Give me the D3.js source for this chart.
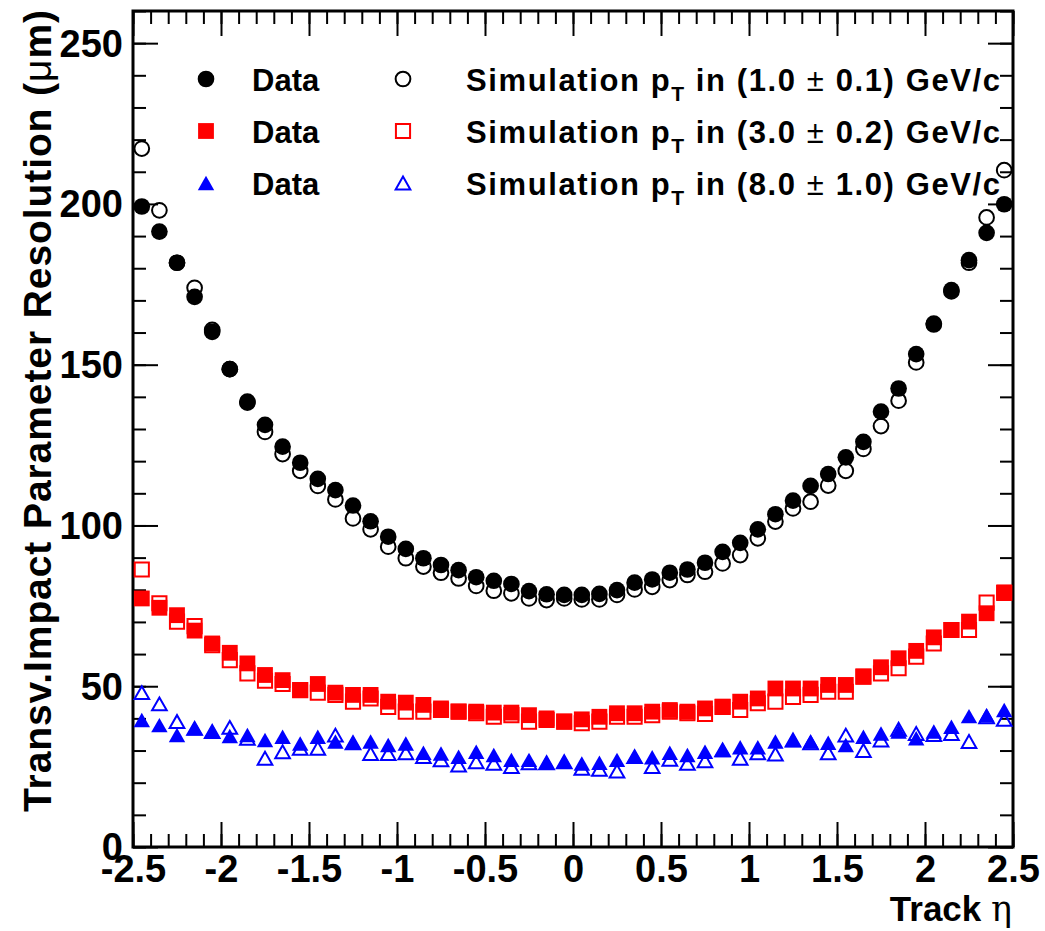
<!DOCTYPE html>
<html>
<head>
<meta charset="utf-8">
<script src="https://cdn.jsdelivr.net/npm/d3@7"></script>
<style>
body { margin: 0; background: #fff; }
text { font-family: "Liberation Sans", Arial, sans-serif; font-weight: bold; }
</style>
</head>
<body>
<div id="chart-container"></div>
<script>
// Track eta bin centres
var etaBins = [-2.45, -2.35, -2.25, -2.15, -2.05, -1.95, -1.85, -1.75, -1.65, -1.55,
    -1.45, -1.35, -1.25, -1.15, -1.05, -0.95, -0.85, -0.75, -0.65, -0.55,
    -0.45, -0.35, -0.25, -0.15, -0.05, 0.05, 0.15, 0.25, 0.35, 0.45,
    0.55, 0.65, 0.75, 0.85, 0.95, 1.05, 1.15, 1.25, 1.35, 1.45,
    1.55, 1.65, 1.75, 1.85, 1.95, 2.05, 2.15, 2.25, 2.35, 2.45];

// pT 1.0 GeV/c
var dataPt1 = [199.2, 191.4, 181.7, 171.1, 160.2, 148.6, 138.5, 131.3, 124.5, 119.5,
    114.5, 111.0, 106.2, 101.3, 96.5, 92.7, 89.8, 87.7, 86.1, 83.9,
    82.8, 81.8, 79.6, 78.6, 78.4, 78.4, 78.7, 79.9, 82.2, 83.2,
    85.3, 86.3, 88.4, 91.8, 94.6, 98.8, 103.5, 107.7, 112.3, 116.0,
    121.2, 126.0, 135.4, 142.6, 153.3, 162.8, 173.2, 182.5, 191.0, 199.9];
var simPt1 = [217.2, 198.0, 181.7, 173.9, 160.8, 148.6, 138.2, 129.1, 122.2, 117.0,
    112.3, 108.1, 102.2, 98.8, 93.4, 89.8, 87.2, 85.3, 83.5, 81.2,
    79.7, 78.9, 77.3, 76.8, 77.3, 77.0, 77.0, 78.4, 80.1, 80.9,
    83.0, 84.6, 85.6, 88.2, 90.8, 96.0, 101.2, 105.3, 107.4, 112.4,
    117.0, 123.8, 130.9, 138.8, 150.7, 162.5, 172.8, 181.7, 195.8, 210.5];

// pT 3.0 GeV/c
var dataPt3 = [77.3, 74.4, 72.1, 67.3, 63.3, 60.4, 57.1, 53.5, 51.9, 48.8,
    50.7, 48.0, 47.3, 47.3, 45.2, 44.9, 44.2, 43.1, 42.1, 42.1,
    41.8, 41.8, 41.0, 40.0, 39.0, 39.7, 40.5, 41.6, 41.6, 42.1,
    42.6, 42.1, 43.1, 43.6, 45.2, 46.2, 49.3, 49.3, 49.3, 50.4,
    50.4, 53.0, 55.9, 58.7, 61.0, 65.2, 67.5, 70.1, 72.7, 79.2];
var simPt3 = [86.3, 75.8, 70.1, 68.7, 62.8, 58.1, 54.0, 51.7, 50.7, 48.8,
    48.0, 47.3, 45.2, 46.2, 43.6, 42.1, 42.1, 42.6, 42.1, 41.6,
    40.5, 41.0, 39.0, 39.5, 39.0, 38.5, 39.0, 40.5, 40.5, 41.0,
    42.1, 41.6, 41.4, 43.6, 42.6, 44.7, 45.2, 46.7, 47.3, 48.3,
    48.3, 53.0, 54.0, 55.6, 59.2, 63.3, 67.5, 67.5, 76.0, 79.0];

// pT 8.0 GeV/c
var dataPt8 = [39.5, 37.9, 34.8, 36.9, 35.9, 34.5, 34.8, 33.3, 34.3, 32.2,
    34.3, 32.8, 32.4, 32.8, 31.7, 32.2, 29.3, 29.1, 28.1, 29.6,
    28.6, 27.1, 27.1, 26.2, 26.5, 26.0, 26.2, 27.1, 28.1, 27.9,
    29.3, 28.6, 29.6, 30.2, 31.0, 31.0, 32.8, 33.3, 32.8, 32.4,
    31.7, 34.3, 35.3, 35.9, 33.8, 35.9, 37.4, 40.7, 41.0, 42.6];
var simPt8 = [48.0, 44.5, 39.0, 36.9, 35.9, 37.2, 33.8, 27.6, 29.6, 30.7,
    30.7, 34.8, 32.4, 29.1, 29.1, 29.3, 28.1, 27.1, 25.5, 26.5,
    26.0, 25.0, 26.2, 26.2, 26.5, 24.5, 24.2, 23.6, 28.1, 25.0,
    27.3, 26.0, 26.8, 30.2, 27.6, 29.3, 28.9, 33.3, 32.4, 29.3,
    34.8, 30.0, 33.3, 36.6, 35.3, 35.0, 35.3, 32.8, 40.5, 39.7];

var xMajorTicks = [-2.5, -2, -1.5, -1, -0.5, 0, 0.5, 1, 1.5, 2, 2.5];
var yMajorTicks = [0, 50, 100, 150, 200, 250];
var simLabels = ["(1.0 ", "(3.0 ", "(8.0 "];
var simLabelsEnd = [" 0.1) GeV/c", " 0.2) GeV/c", " 1.0) GeV/c"];

var width = 1045, height = 931;
var margin = { top: 11, right: 32, bottom: 84, left: 133 };

var svg = d3.select("#chart-container")
    .append("svg")
    .attr("width", width)
    .attr("height", height);

var x = d3.scaleLinear()
    .domain([-2.5, 2.5])
    .range([margin.left, width - margin.right]);

var y = d3.scaleLinear()
    .domain([0, 260])
    .range([height - margin.bottom, margin.top]);

// minor tick positions every 0.1 / 10
var xMinor = d3.range(-25, 26).map(function (d) { return d / 10; });
var yMinor = d3.range(0, 27).map(function (d) { return d * 10; });

function minorAxis(axis, vals) {
    return axis.tickValues(vals).tickSizeInner(-13).tickSizeOuter(0).tickFormat("");
}

var y0 = height - margin.bottom, x0 = margin.left, x1 = width - margin.right, y1 = margin.top;

// bottom axis
svg.append("g").attr("transform", "translate(0," + y0 + ")")
    .call(minorAxis(d3.axisBottom(x), xMinor));
svg.append("g").attr("class", "xaxis").attr("transform", "translate(0," + y0 + ")")
    .call(d3.axisBottom(x).tickValues(xMajorTicks).tickSizeInner(-25).tickSizeOuter(0)
        .tickPadding(8).tickFormat(function (d) { return String(d); }));
// top axis
svg.append("g").attr("transform", "translate(0," + y1 + ")")
    .call(minorAxis(d3.axisTop(x), xMinor));
svg.append("g").attr("transform", "translate(0," + y1 + ")")
    .call(d3.axisTop(x).tickValues(xMajorTicks).tickSizeInner(-25).tickSizeOuter(0).tickFormat(""));
// left axis
svg.append("g").attr("transform", "translate(" + x0 + ",0)")
    .call(minorAxis(d3.axisLeft(y), yMinor));
svg.append("g").attr("class", "yaxis").attr("transform", "translate(" + x0 + ",0)")
    .call(d3.axisLeft(y).tickValues(yMajorTicks).tickSizeInner(-25).tickSizeOuter(0).tickPadding(10));
// right axis
svg.append("g").attr("transform", "translate(" + x1 + ",0)")
    .call(minorAxis(d3.axisRight(y), yMinor));
svg.append("g").attr("transform", "translate(" + x1 + ",0)")
    .call(d3.axisRight(y).tickValues(yMajorTicks).tickSizeInner(-25).tickSizeOuter(0).tickFormat(""));

svg.selectAll(".domain").remove();
svg.selectAll(".tick line").attr("stroke", "#000").attr("stroke-width", 2);
svg.selectAll(".xaxis text, .yaxis text")
    .style("font-family", "Liberation Sans, Arial, sans-serif")
    .style("font-weight", "bold")
    .style("font-size", "38px")
    .attr("fill", "#000");
svg.selectAll(".yaxis text").attr("dy", "0.34em");
svg.selectAll(".xaxis text").attr("dy", "0.72em");

// frame
svg.append("rect")
    .attr("x", x0).attr("y", y1)
    .attr("width", x1 - x0).attr("height", y0 - y1)
    .attr("fill", "none").attr("stroke", "#000").attr("stroke-width", 3);

// marker shapes
var triangleType = {
    draw: function (context, size) {
        var w = Math.sqrt(size);
        context.moveTo(-w / 2, w * 0.44);
        context.lineTo(w / 2, w * 0.44);
        context.lineTo(0, -w * 0.44);
        context.closePath();
    }
};
var filledSymbol = {
    circle: d3.symbol().type(d3.symbolCircle).size(218),
    square: d3.symbol().type(d3.symbolSquare).size(250),
    triangle: d3.symbol().type(triangleType).size(270)
};
// open markers slightly smaller so the outline sits on the same size
var openSymbol = {
    circle: d3.symbol().type(d3.symbolCircle).size(170),
    square: d3.symbol().type(d3.symbolSquare).size(200),
    triangle: d3.symbol().type(triangleType).size(215)
};

var series = [
    { values: simPt1, shape: "circle", color: "#000", filled: false },
    { values: simPt3, shape: "square", color: "#ff0000", filled: false },
    { values: simPt8, shape: "triangle", color: "#0000ff", filled: false },
    { values: dataPt1, shape: "circle", color: "#000", filled: true },
    { values: dataPt3, shape: "square", color: "#ff0000", filled: true },
    { values: dataPt8, shape: "triangle", color: "#0000ff", filled: true }
];

series.forEach(function (s) {
    var sym = s.filled ? filledSymbol[s.shape] : openSymbol[s.shape];
    svg.append("g").selectAll("path")
        .data(s.values)
        .enter()
        .append("path")
        .attr("transform", function (d, i) { return "translate(" + x(etaBins[i]) + "," + y(d) + ")"; })
        .attr("d", sym())
        .attr("fill", s.filled ? s.color : "none")
        .attr("stroke", s.filled ? "none" : s.color)
        .attr("stroke-width", s.filled ? 0 : 2);
});

// legend
var legendRows = [79, 131, 183];
var legendShapes = ["circle", "square", "triangle"];
var legendColors = ["#000", "#ff0000", "#0000ff"];
var legend = svg.append("g");

legendRows.forEach(function (ry, i) {
    var shp = legendShapes[i];
    legend.append("path")
        .attr("transform", "translate(206," + ry + ")")
        .attr("d", filledSymbol[shp]())
        .attr("fill", legendColors[i]);
    legend.append("text")
        .attr("x", 252).attr("y", ry + 12)
        .style("font-size", "31px")
        .text("Data");
    legend.append("path")
        .attr("transform", "translate(403," + ry + ")")
        .attr("d", openSymbol[shp]())
        .attr("fill", "none")
        .attr("stroke", legendColors[i])
        .attr("stroke-width", 2);

    var t = legend.append("text")
        .attr("x", 466).attr("y", ry + 12)
        .attr("textLength", 534)
        .attr("lengthAdjust", "spacing")
        .style("font-size", "31px");
    t.append("tspan").text("Simulation  p");
    t.append("tspan").attr("dy", 10).style("font-size", "21px").text("T");
    t.append("tspan").attr("dy", -10).text(" in " + simLabels[i]);
    t.append("tspan").style("font-weight", "normal").text("\u00b1");
    t.append("tspan").text(simLabelsEnd[i]);
});

// axis titles
var ytitle = svg.append("text")
    .attr("transform", "translate(51,812) rotate(-90)")
    .attr("textLength", 802)
    .attr("lengthAdjust", "spacing")
    .style("font-size", "39px");
ytitle.append("tspan").text("Transv.Impact Parameter Resolution (");
ytitle.append("tspan").style("font-weight", "normal").text("\u03bc");
ytitle.append("tspan").text("m)");

var xtitle = svg.append("text")
    .attr("x", 1012).attr("y", 921)
    .attr("text-anchor", "end")
    .style("font-size", "35px");
xtitle.append("tspan").text("Track ");
xtitle.append("tspan")
    .style("font-weight", "normal")
    .style("font-family", "DejaVu Serif, serif")
    .text("\u03b7");
</script>
</body>
</html>
